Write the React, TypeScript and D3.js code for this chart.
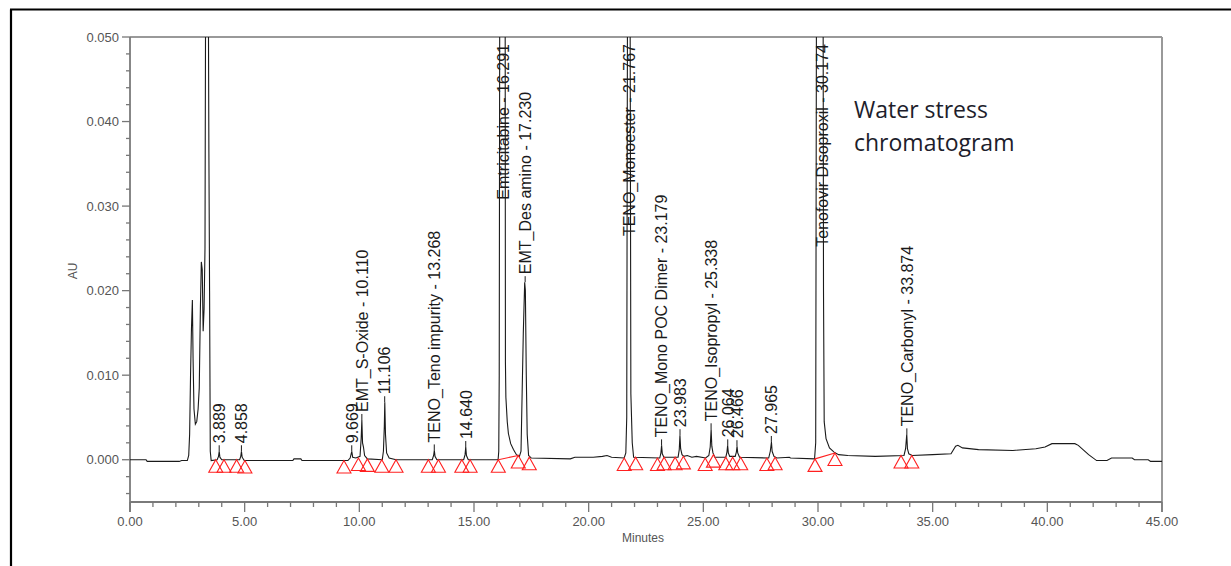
import React from 'react';
import * as d3 from 'd3';

// detector trace: [minutes, AU]
const trace: [number, number][] = [
  [0.0, 0.0], [0.7, 0.0], [0.75, -0.0002], [2.15, -0.0002], [2.25, -0.0001], [2.5, -0.0001],
  [2.56, 0.0005], [2.6, 0.003], [2.64, 0.01], [2.68, 0.0155], [2.72, 0.0189], [2.75, 0.012],
  [2.79, 0.006], [2.85, 0.0042], [2.91, 0.0045], [2.97, 0.006], [3.02, 0.0085], [3.07, 0.018],
  [3.11, 0.0234], [3.15, 0.0225], [3.19, 0.0152], [3.23, 0.0178], [3.27, 0.025], [3.31, 0.07],
  [3.36, 0.095], [3.41, 0.06], [3.44, 0.0364], [3.47, 0.02], [3.5, 0.001], [3.54, -0.0001],
  [3.8, 0.0], [3.86, 0.0004], [3.89, 0.001], [3.92, 0.0003], [4.0, 0.0],
  [4.78, 0.0], [4.83, 0.0004], [4.86, 0.001], [4.89, 0.0003], [4.98, -0.0001],
  [7.1, -0.0001], [7.15, 0.0001], [7.45, 0.0001], [7.5, -0.0001], [9.5, -0.0001],
  [9.6, 0.0002], [9.67, 0.001], [9.71, 0.0003], [9.85, 0.0002],
  [10.03, 0.0004], [10.08, 0.0025], [10.11, 0.0047], [10.14, 0.002], [10.18, 0.0015], [10.23, 0.0005], [10.35, 0.0001],
  [11.0, 0.0], [11.05, 0.001], [11.09, 0.004], [11.11, 0.0068], [11.14, 0.003], [11.19, 0.0008], [11.3, 0.0002], [11.6, 0.0],
  [13.18, 0.0], [13.24, 0.0005], [13.27, 0.0011], [13.3, 0.0004], [13.38, 0.0],
  [14.55, 0.0], [14.61, 0.0006], [14.64, 0.0015], [14.67, 0.0005], [14.75, 0.0],
  [16.05, 0.0], [16.08, 0.001], [16.1, 0.01], [16.12, 0.05], [16.18, 0.1], [16.24, 0.13], [16.3, 0.1],
  [16.36, 0.05], [16.37, 0.0116], [16.39, 0.0074], [16.45, 0.0045], [16.5, 0.0031], [16.6, 0.0019],
  [16.72, 0.0012], [16.85, 0.0006], [16.98, 0.0004],
  [17.05, 0.001], [17.1, 0.008], [17.15, 0.015], [17.21, 0.021], [17.24, 0.02], [17.28, 0.01],
  [17.32, 0.003], [17.38, 0.0005], [17.5, 0.0002],
  [19.2, 0.0001], [19.4, 0.0003], [20.2, 0.0003], [20.6, 0.0004], [20.8, 0.0005], [21.0, 0.0003],
  [21.55, 0.0002], [21.62, 0.0008], [21.66, 0.005], [21.69, 0.05], [21.74, 0.09], [21.78, 0.07],
  [21.81, 0.05], [21.84, 0.0078], [21.9, 0.002], [21.96, 0.0003],
  [23.1, 0.0002], [23.15, 0.0008], [23.18, 0.0017], [23.21, 0.0007], [23.28, 0.0003],
  [23.9, 0.0003], [23.95, 0.0012], [23.98, 0.0029], [24.01, 0.0013], [24.07, 0.0006], [24.15, 0.0004],
  [24.3, 0.0005], [24.5, 0.0003], [24.7, 0.0004], [25.1, 0.0002],
  [25.24, 0.0005], [25.3, 0.0015], [25.34, 0.0036], [25.37, 0.0016], [25.42, 0.0008], [25.5, 0.0003],
  [25.98, 0.0003], [26.03, 0.0009], [26.06, 0.0017], [26.09, 0.0008], [26.15, 0.0004],
  [26.39, 0.0004], [26.44, 0.0009], [26.47, 0.0016], [26.5, 0.0008], [26.58, 0.0003],
  [27.85, 0.0002], [27.92, 0.001], [27.97, 0.0021], [28.0, 0.001], [28.08, 0.0004], [28.2, 0.0002],
  [28.75, 0.0003], [28.8, 0.0002], [29.85, 0.0001],
  [29.9, 0.002], [29.93, 0.05], [30.05, 0.12], [30.17, 0.14], [30.22, 0.06], [30.24, 0.02],
  [30.27, 0.0045], [30.35, 0.0025], [30.5, 0.0014], [30.7, 0.0009], [30.9, 0.0006], [31.3, 0.0005],
  [32.5, 0.0004], [33.75, 0.0005], [33.82, 0.0013], [33.87, 0.003], [33.9, 0.0013], [33.96, 0.0007],
  [34.1, 0.0005], [35.0, 0.0006], [35.8, 0.0007], [36.0, 0.0016], [36.1, 0.0017], [36.3, 0.0014],
  [37.0, 0.0012], [38.5, 0.0011], [39.5, 0.0013], [39.9, 0.0015], [40.2, 0.0019], [41.2, 0.0019],
  [41.35, 0.0017], [41.8, 0.0006], [42.15, -0.0001], [42.6, -0.0001], [42.8, 0.0002], [43.7, 0.0002],
  [43.8, 0.0], [44.4, 0.0], [44.5, -0.0002], [45.0, -0.0002],
];

const peakNames = [
  '', '', '', 'EMT_S-Oxide', '', 'TENO_Teno impurity', '', 'Emtricitabine', 'EMT_Des amino',
  'TENO_Monoester', 'TENO_Mono POC Dimer', '', 'TENO_Isopropyl', '', '', '', 'Tenofovir Disoproxil',
  'TENO_Carbonyl',
];
const peakTimes = [
  3.889, 4.858, 9.669, 10.11, 11.106, 13.268, 14.64, 16.291, 17.23, 21.767, 23.179, 23.983, 25.338,
  26.064, 26.466, 27.965, 30.174, 33.874,
];
const peakApex = [
  0.001, 0.001, 0.001, 0.0047, 0.0068, 0.0011, 0.0015, 0.13, 0.021, 0.09, 0.0017, 0.0029, 0.0036,
  0.0017, 0.0016, 0.0021, 0.14, 0.003,
];

// integration start / end marks
const markerTimes = [
  3.74, 4.1, 4.65, 5.01, 9.33, 9.96, 10.35, 10.98, 11.6, 13.01, 13.45, 14.47, 14.83, 16.06, 16.93,
  17.41, 21.55, 22.05, 23.0, 23.29, 23.77, 24.13, 25.08, 25.44, 25.98, 26.28, 26.63, 27.77, 28.13,
  29.87, 30.74, 33.62, 34.09,
];
const markerAU = [
  0.0, 0.0, 0.0, -0.0001, -0.0001, 0.0002, 0.0001, 0.0, 0.0, 0.0, 0.0, 0.0, 0.0, 0.0, 0.0005,
  0.0003, 0.0002, 0.0003, 0.0002, 0.0003, 0.0003, 0.0004, 0.0002, 0.0006, 0.0003, 0.0003, 0.0003,
  0.0002, 0.0003, 0.0001, 0.0008, 0.0005, 0.0005,
];

// drawn baselines under the big peaks: [t0, au0, t1, au1]
const integrationBaselines: [number, number, number, number][] = [
  [16.06, 0.0, 16.93, 0.0005],
  [29.87, 0.0001, 30.74, 0.0008],
];

const titleLines = ['Water stress', 'chromatogram'];

const W = 1231;
const H = 566;
const FONT = '"Liberation Sans", Arial, sans-serif';

export default function App() {
  const x = d3.scaleLinear().domain([0, 45]).range([130, 1162]);
  const y = d3.scaleLinear().domain([-0.005, 0.05]).range([502, 37]);
  const [x0, x1] = x.range();
  const [yb, yt] = y.range();

  const line = d3.line<[number, number]>()
    .x(d => x(d[0]))
    .y(d => y(d[1]));

  const xTicks = d3.range(0, 46);
  const yTicks = d3.range(-2, 26).map(i => ({ v: i * 0.002, major: i % 5 === 0 }));
  const fx = d3.format('.2f');
  const fy = d3.format('.3f');
  const ft = d3.format('.3f');

  const tri = (cx: number, cy: number) => `M${cx},${cy} L${cx + 7},${cy + 12.5} L${cx - 7},${cy + 12.5} Z`;

  return (
    <svg width={W} height={H} style={{ position: 'absolute', left: 0, top: 0, background: '#fff' }} fontFamily={FONT}>
      <defs>
        <clipPath id="plot">
          <rect x={x0} y={yt} width={x1 - x0} height={yb - yt} />
        </clipPath>
      </defs>

      {/* outer frame */}
      <line x1={10} y1={9.5} x2={W} y2={9.5} stroke="#000" strokeWidth={2.2} />
      <line x1={11} y1={9.5} x2={11} y2={H} stroke="#000" strokeWidth={2.2} />

      {/* plot box */}
      <line x1={x0} y1={yt} x2={x1} y2={yt} stroke="#999" strokeWidth={2} />
      <line x1={x1} y1={yt} x2={x1} y2={yb + 10} stroke="#999" strokeWidth={2} />
      <line x1={x0} y1={yt} x2={x0} y2={yb + 10} stroke="#7a7a7a" strokeWidth={1.8} />
      <line x1={x0} y1={yb} x2={x1} y2={yb} stroke="#7a7a7a" strokeWidth={1.8} />

      {yTicks.map(t => (
        <g key={'y' + t.v}>
          <line x1={x0 - (t.major ? 8 : 4)} x2={x0} y1={y(t.v)} y2={y(t.v)} stroke="#777" strokeWidth={1.3} />
          {t.major && (
            <text x={x0 - 11} y={y(t.v)} dy="0.35em" textAnchor="end" fontSize={13} fill="#555">
              {fy(t.v)}
            </text>
          )}
        </g>
      ))}

      {xTicks.map(t => (
        <g key={'x' + t}>
          <line x1={x(t)} x2={x(t)} y1={yb} y2={yb + (t % 5 === 0 ? 10 : 5)} stroke="#777" strokeWidth={1.3} />
          {t % 5 === 0 && (
            <text x={x(t)} y={526} textAnchor="middle" fontSize={13} fill="#555">
              {fx(t)}
            </text>
          )}
        </g>
      ))}

      <text x={643} y={542} textAnchor="middle" fontSize={12} fill="#555">Minutes</text>
      <text transform={`translate(73,271) rotate(-90)`} dy="0.35em" textAnchor="middle" fontSize={12} fill="#555">AU</text>

      <path d={line(trace) || ''} fill="none" stroke="#1a1a1a" strokeWidth={1.1} clipPath="url(#plot)" />

      {integrationBaselines.map((b, i) => (
        <line key={'b' + i} x1={x(b[0])} y1={y(b[1])} x2={x(b[2])} y2={y(b[3])} stroke="#ff2020" strokeWidth={1.1} />
      ))}

      {markerTimes.map((t, i) => (
        <path key={'m' + i} d={tri(x(t), y(markerAU[i]))} fill="none" stroke="#ff2020" strokeWidth={1.1} />
      ))}

      {peakTimes.map((t, i) => {
        const label = peakNames[i] ? `${peakNames[i]} - ${ft(t)}` : ft(t);
        const px = x(t);
        const clipped = peakApex[i] > y.domain()[1];
        if (clipped) {
          return (
            <text key={'p' + i} transform={`translate(${px},${yt + 7}) rotate(-90)`} dy="0.36em"
              textAnchor="end" fontSize={16} fill="#1a1a1a">
              {label}
            </text>
          );
        }
        const py = y(peakApex[i]);
        return (
          <g key={'p' + i}>
            <line x1={px} x2={px} y1={py} y2={py - 6} stroke="#1a1a1a" strokeWidth={1} />
            <text transform={`translate(${px},${py - 8}) rotate(-90)`} dy="0.36em" textAnchor="start"
              fontSize={16} fill="#1a1a1a">
              {label}
            </text>
          </g>
        );
      })}

      {titleLines.map((s, i) => (
        <text key={'t' + i} x={854} y={118 + i * 33} fontFamily='"Open Sans", sans-serif' fontSize={23}
          fill="#1d1d2b">
          {s}
        </text>
      ))}
    </svg>
  );
}
